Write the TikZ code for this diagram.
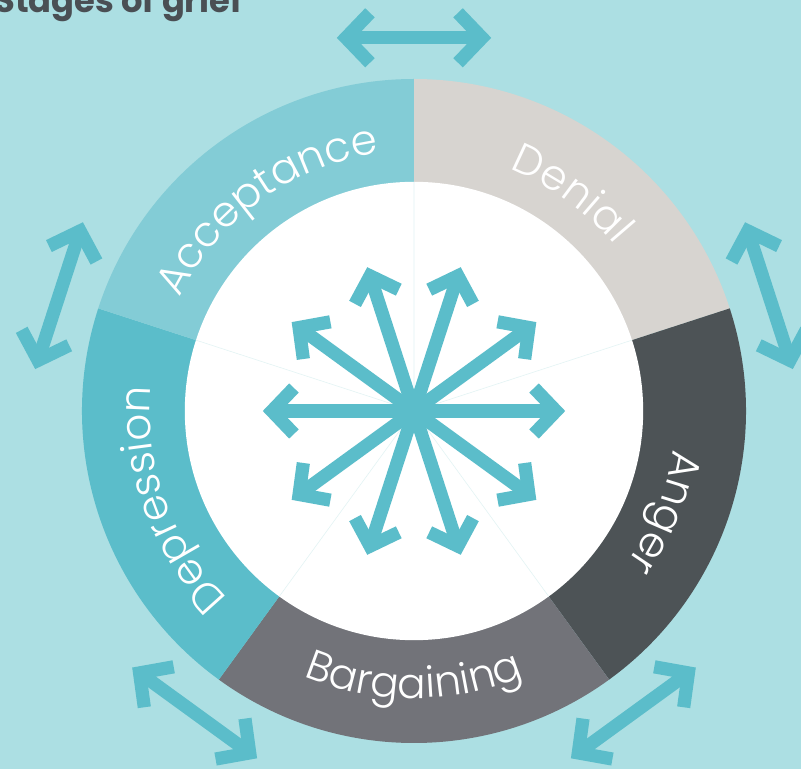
\documentclass[tikz,border=0pt]{standalone}
\usepackage{fontspec}
\setmainfont{Poppins}
\newfontfamily\ringfamily{Poppins Light}
\usetikzlibrary{arrows.meta,decorations.text}
\definecolor{skyback}{HTML}{ACDFE3}
\definecolor{arrowteal}{HTML}{5BBDCA}
\definecolor{acceptcol}{HTML}{83CCD6}
\definecolor{denialcol}{HTML}{D7D4D0}
\definecolor{angercol}{HTML}{4D5356}
\definecolor{bargaincol}{HTML}{727379}
\definecolor{depresscol}{HTML}{5BBDCA}
\definecolor{titlegray}{HTML}{4A4F54}
\definecolor{faintline}{HTML}{E2F3F4}
\newcommand\ringfont{\ringfamily\fontsize{30}{30}\selectfont}
\begin{document}
\begin{tikzpicture}[
        spoke/.style={draw=arrowteal, line width=0.33cm,
            arrows={Straight Barb[length=5.5mm,width=11.5mm]-Straight Barb[length=5.5mm,width=11.5mm]}},
        swing/.style={draw=arrowteal, line width=0.33cm,
            arrows={Straight Barb[length=6mm,width=12.5mm]-Straight Barb[length=6mm,width=12.5mm]}},
        ringtext/.style={decorate, decoration={text along path, text align=center,
            text color=white, text={|\ringfont|#1}}}]
        \useasboundingbox (-10.35,-8.95) rectangle (9.675,10.275);
        \fill[skyback] (-10.35,-8.95) rectangle (9.675,10.275);
        \node[anchor=base west, inner sep=0, text=titlegray,
            font=\bfseries\fontsize{24}{24}\selectfont] (title) at (-10.5,9.95) {Stages of grief};
        \fill[denialcol] (0,0) -- (90:8.3) arc[start angle=90, end angle=18, radius=8.3] -- cycle;
        \fill[angercol] (0,0) -- (18:8.3) arc[start angle=18, end angle=-54, radius=8.3] -- cycle;
        \fill[bargaincol] (0,0) -- (-54:8.3) arc[start angle=-54, end angle=-126, radius=8.3] -- cycle;
        \fill[depresscol] (0,0) -- (-126:8.3) arc[start angle=-126, end angle=-198, radius=8.3] -- cycle;
        \fill[acceptcol] (0,0) -- (162:8.3) arc[start angle=162, end angle=90, radius=8.3] -- cycle;
        \fill[white] (0,0) circle (5.73);
        \draw[faintline, line width=0.4pt] (90:5.73) -- (0,0) -- (18:5.73);
        \draw[faintline, line width=0.4pt] (-54:5.73) -- (0,0) -- (-126:5.73);
        \draw[faintline, line width=0.4pt] (162:5.73) -- (0,0);
        \path[ringtext=Acceptance] (162:6.5) arc[start angle=162, end angle=90, radius=6.5];
        \path[ringtext=Denial] (90:6.5) arc[start angle=90, end angle=18, radius=6.5];
        \path[ringtext=Anger] (14:6.55) arc[start angle=14, end angle=-58, radius=6.55];
        \path[ringtext=Bargaining] (-126:7.18) arc[start angle=-126, end angle=-54, radius=7.18];
        \path[ringtext=Depression] (-124:6.6) arc[start angle=-124, end angle=-196, radius=6.6];
        \draw[spoke] (0:3.78) -- (180:3.78);
        \draw[spoke] (36:3.78) -- (216:3.78);
        \draw[spoke] (72:3.78) -- (252:3.78);
        \draw[spoke] (108:3.78) -- (288:3.78);
        \draw[spoke] (144:3.78) -- (324:3.78);
        \draw[swing] (90:9.33) ++(180:1.93) -- ++(0:3.86);
        \draw[swing] (18:9.33) ++(108:1.93) -- ++(-72:3.86);
        \draw[swing] (-54:9.33) ++(36:1.93) -- ++(-144:3.86);
        \draw[swing] (-126:9.33) ++(-36:1.93) -- ++(144:3.86);
        \draw[swing] (162:9.33) ++(-108:1.93) -- ++(72:3.86);
\end{tikzpicture}
\end{document}
